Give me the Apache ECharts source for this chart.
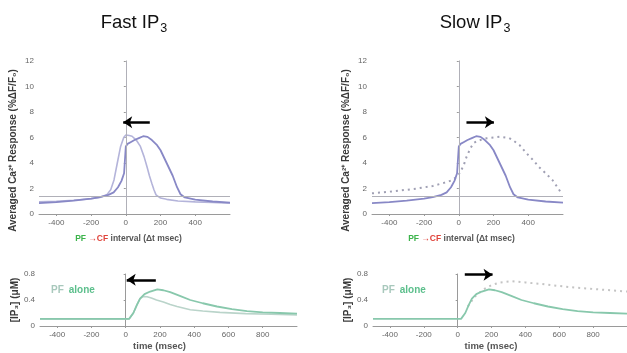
<!DOCTYPE html>
<html><head><meta charset="utf-8">
<script src="https://cdn.jsdelivr.net/npm/echarts@6/dist/echarts.min.js"></script>
<style>html,body{margin:0;padding:0;background:#fff}#c{width:627px;height:353px}</style>
</head><body><div id="c"></div>
<script>
// ---- data ----
const topXTicks = [-400, -200, 0, 200, 400];
const bottomXTicks = [-400, -200, 0, 200, 400, 600, 800];

// Ca2+ response vs PF->CF interval (control curve, darker)
const ctrlX = [-500,-400,-300,-200,-150,-100,-70,-45,-25,-10,0,10,30,50,75,100,125,150,180,200,235,270,295,315,340,400,500,600];
const ctrlY = [0.85,0.93,1.05,1.2,1.32,1.5,1.7,2.1,2.6,3.2,5.3,5.5,5.65,5.8,5.95,6.1,6.05,5.8,5.4,5.0,4.0,3.0,2.1,1.55,1.3,1.12,0.98,0.9];
// fast IP3 curve (lighter)
const fastX = [-500,-400,-300,-200,-150,-110,-87,-68,-49,-30,-12,0,20,36,60,84,105,122,136,150,162,174,200,235,300,400,500,600];
const fastY = [0.95,1.0,1.08,1.2,1.3,1.5,1.9,2.67,4.0,5.3,6.0,6.2,6.15,6.1,5.8,5.3,4.5,3.7,3.0,2.4,1.9,1.5,1.25,1.15,1.02,0.95,0.9,0.85];
// slow IP3 curve (dotted)
const slowX = [-500,-400,-300,-240,-150,-70,-40,-10,10,30,45,65,83,110,160,235,290,310,350,390,430,460,500,540,585];
const slowY = [1.62,1.75,1.9,2.0,2.2,2.5,2.65,2.93,3.3,3.9,4.5,5.1,5.55,5.75,5.94,6.06,5.95,5.8,5.4,4.76,4.2,3.7,3.2,2.65,1.75];
const thresholdY = 1.36;

// [IP3] vs time
const ipX = [-500,-400,-200,0,20,30,45,65,84,110,143,185,220,260,320,377,450,533,620,708,800,900,1000];
const ipY = [0.11,0.11,0.11,0.11,0.11,0.13,0.2,0.32,0.42,0.49,0.53,0.565,0.55,0.52,0.46,0.40,0.35,0.30,0.26,0.23,0.21,0.2,0.19];
const fastIpX = [-500,-400,-200,0,20,30,45,65,84,104,125,150,180,220,260,300,377,450,550,700,850,1000];
const fastIpY = [0.11,0.11,0.11,0.11,0.11,0.13,0.2,0.32,0.42,0.455,0.45,0.43,0.4,0.37,0.33,0.3,0.25,0.23,0.21,0.19,0.18,0.17];
const slowIpX = [60,100,150,200,250,320,400,500,600,700,800,900,1000];
const slowIpY = [0.3,0.45,0.56,0.63,0.67,0.69,0.67,0.645,0.615,0.59,0.57,0.55,0.53];

// arrows [x1,y1,x2,y2] (tail -> head)
const arrowTL = [138, 7.2, -15, 7.2];
const arrowTR = [44, 7.2, 202, 7.2];
const arrowBL = [176, 0.71, 6, 0.71];
const arrowBR = [42, 0.79, 206, 0.79];

const zip = (xs, ys) => xs.map((x, i) => [x, ys[i]]);

// ---- styles ----
const FONT = 'Liberation Sans, Arial, sans-serif';
const axisCol = '#9a9a9a';
const labCol = '#666';

function xAx(grid, min, max, ticks, nameRich, name, gap, fs, pad) {
  return {
    gridIndex: grid, type: 'value', min: min, max: max,
    axisLine: {show: true, lineStyle: {color: axisCol, width: 1}},
    axisTick: {show: true, length: 2, customValues: ticks, lineStyle: {color: axisCol}},
    axisLabel: {customValues: ticks, fontSize: 8, color: labCol, fontFamily: FONT, margin: 5},
    splitLine: {show: false},
    name: name, nameLocation: 'middle', nameGap: gap,
    nameTextStyle: {fontFamily: FONT, fontSize: fs, fontWeight: 'bold', color: '#555', rich: nameRich, padding: pad}
  };
}
function yAx(grid, min, max, interval, name, gap, fmt, pad) {
  return {
    gridIndex: grid, type: 'value', min: min, max: max, interval: interval,
    axisLine: {show: true, lineStyle: {color: axisCol, width: 1}},
    axisTick: {show: true, length: 2, lineStyle: {color: axisCol}},
    axisLabel: {fontSize: 8, color: labCol, fontFamily: FONT, margin: 5, formatter: fmt},
    splitLine: {show: false},
    name: name, nameLocation: 'middle', nameGap: gap, nameRotate: 90,
    nameTextStyle: {fontFamily: FONT, fontSize: 10, fontWeight: 'bold', color: '#3a3a3a', padding: pad}
  };
}
const pfRich = {
  g: {color: '#3cb44b', fontWeight: 'bold', fontSize: 8.5, fontFamily: FONT},
  r: {color: '#e0443c', fontWeight: 'bold', fontSize: 8.5, fontFamily: FONT},
  d: {color: '#555', fontWeight: 'bold', fontSize: 8.5, fontFamily: FONT}
};
const pfName = '{g|PF} {r|→CF} {d|interval (Δt msec)}';

function arrowSeries(xi, a) {
  return {
    type: 'line', xAxisIndex: xi, yAxisIndex: xi, silent: true,
    data: [[a[0], a[1]], [a[2], a[3]]], showSymbol: false,
    lineStyle: {opacity: 0},
    markLine: {
      silent: true, symbol: ['none', 'arrow'], symbolSize: [9, 9],
      label: {show: false},
      lineStyle: {color: '#000', width: 2.5, type: 'solid'},
      data: [[{coord: [a[0], a[1]]}, {coord: [a[2], a[3]]}]]
    }
  };
}
function refLines() {
  return {
    silent: true, symbol: 'none', label: {show: false},
    lineStyle: {color: '#b0b0b8', width: 1, type: 'solid'},
    data: [{xAxis: 0}, {yAxis: thresholdY}]
  };
}

const ctrlCol = '#8888c6', fastCol = '#b4b4da', slowCol = '#a0a0b4';
const ipCol = '#88c8ac', fastIpCol = '#bad4ca', slowIpCol = '#c4c4c4';
const tickFmt = v => (v === 0 ? '0' : v.toFixed(1));
const titleRich = {s: {fontSize: 12.5, verticalAlign: 'bottom', padding: [12, 0, 0, 1], fontFamily: FONT, color: '#111'}};
const aloneRich = {a: {fontSize: 10, color: '#a8c8bc', fontFamily: FONT}, b: {fontSize: 10, color: '#5cbf8c', fontFamily: FONT}};

const option = {
  animation: false,
  backgroundColor: '#fff',
  title: [
    {text: 'Fast IP{s|3}', left: 129, top: 5, textAlign: 'center',
     textStyle: {fontFamily: FONT, fontSize: 18.5, fontWeight: 'normal', color: '#111', rich: titleRich}},
    {text: 'Slow IP{s|3}', left: 470, top: 5, textAlign: 'center',
     textStyle: {fontFamily: FONT, fontSize: 18.5, fontWeight: 'normal', color: '#111', rich: titleRich}},
    {text: '{a|PF} {b|alone}', left: 46, top: 276, textStyle: {rich: aloneRich}},
    {text: '{a|PF} {b|alone}', left: 377, top: 276, textStyle: {rich: aloneRich}}
  ],
  grid: [
    {left: 39, top: 61, width: 191, height: 153},
    {left: 372, top: 61, width: 191, height: 153},
    {left: 40, top: 274, width: 257, height: 52},
    {left: 373, top: 274, width: 257, height: 52}
  ],
  xAxis: [
    xAx(0, -500, 600, topXTicks, pfRich, pfName, 20, 8.5, [0, 12, 0, 0]),
    xAx(1, -500, 600, topXTicks, pfRich, pfName, 20, 8.5, [0, 12, 0, 0]),
    xAx(2, -500, 1000, bottomXTicks, null, 'time (msec)', 15, 9.5, [0, 18, 0, 0]),
    xAx(3, -500, 1000, bottomXTicks, null, 'time (msec)', 15, 9.5, [0, 18, 0, 0])
  ],
  yAxis: [
    yAx(0, 0, 12, 2, 'Averaged Ca²⁺ Response (%ΔF/F₀)', 21, undefined, [0, 26, 0, 0]),
    yAx(1, 0, 12, 2, 'Averaged Ca²⁺ Response (%ΔF/F₀)', 21, undefined, [0, 26, 0, 0]),
    yAx(2, 0, 0.8, 0.4, '[IP₃] (μM)', 19, tickFmt, [0, 0, 0, 0]),
    yAx(3, 0, 0.8, 0.4, '[IP₃] (μM)', 19, tickFmt, [0, 0, 0, 0])
  ],
  series: [
    {type: 'line', xAxisIndex: 0, yAxisIndex: 0, data: zip(fastX, fastY), showSymbol: false,
     lineStyle: {color: fastCol, width: 1.6}},
    {type: 'line', xAxisIndex: 0, yAxisIndex: 0, data: zip(ctrlX, ctrlY), showSymbol: false,
     lineStyle: {color: ctrlCol, width: 1.8}, markLine: refLines()},
    {type: 'line', xAxisIndex: 1, yAxisIndex: 1, data: zip(slowX, slowY), showSymbol: false,
     lineStyle: {color: slowCol, width: 2, type: [2, 4]}},
    {type: 'line', xAxisIndex: 1, yAxisIndex: 1, data: zip(ctrlX, ctrlY), showSymbol: false,
     lineStyle: {color: ctrlCol, width: 1.8}, markLine: refLines()},
    {type: 'line', xAxisIndex: 2, yAxisIndex: 2, data: zip(fastIpX, fastIpY), showSymbol: false,
     lineStyle: {color: fastIpCol, width: 1.6}},
    {type: 'line', xAxisIndex: 2, yAxisIndex: 2, data: zip(ipX, ipY), showSymbol: false,
     lineStyle: {color: ipCol, width: 1.8}},
    {type: 'line', xAxisIndex: 3, yAxisIndex: 3, data: zip(slowIpX, slowIpY), showSymbol: false,
     lineStyle: {color: slowIpCol, width: 2, type: [2, 4]}},
    {type: 'line', xAxisIndex: 3, yAxisIndex: 3, data: zip(ipX, ipY), showSymbol: false,
     lineStyle: {color: ipCol, width: 1.8}},
    arrowSeries(0, arrowTL),
    arrowSeries(1, arrowTR),
    arrowSeries(2, arrowBL),
    arrowSeries(3, arrowBR)
  ]
};
echarts.init(document.getElementById('c'), null, {renderer: 'canvas'}).setOption(option);
</script>
</body></html>
